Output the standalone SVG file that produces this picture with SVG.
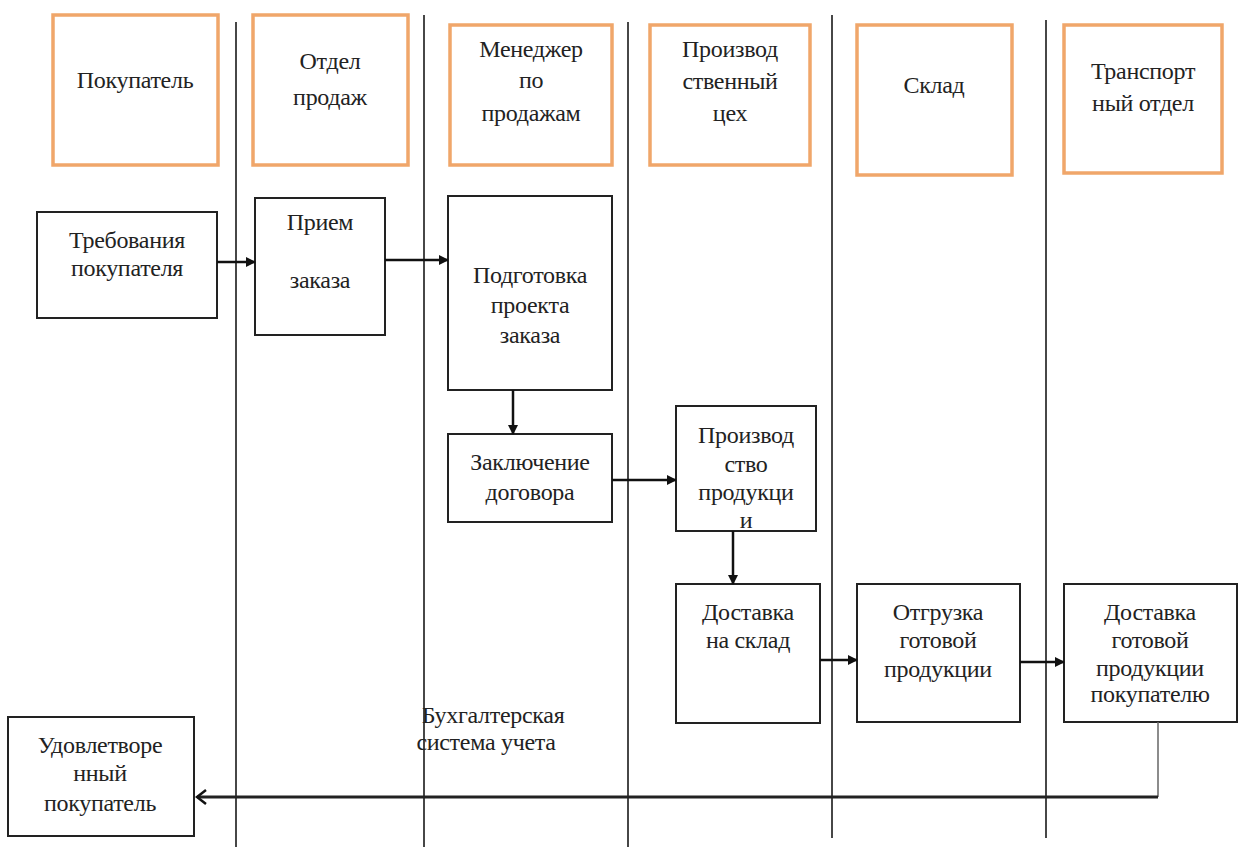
<svg xmlns="http://www.w3.org/2000/svg" width="1240" height="847" viewBox="0 0 1240 847">
<style>
text{font-family:'Liberation Serif','Times New Roman',serif;font-size:24px;fill:#222;text-anchor:middle;letter-spacing:-0.3px}
.hdr{fill:#fff;stroke:#F0A66A;stroke-width:3.5}
.box{fill:#fff;stroke:#222;stroke-width:2}
.lane{stroke:#333;stroke-width:1.8}
.arr{stroke:#111;stroke-width:2.5;fill:none;marker-end:url(#ah)}
</style>
<defs>
<marker id="ah" markerWidth="10" markerHeight="10" refX="9" refY="5" orient="auto" markerUnits="userSpaceOnUse">
<path d="M0,0 L10,5 L0,10 Z" fill="#111"/>
</marker>
<marker id="open" markerWidth="12" markerHeight="16" refX="10" refY="8" orient="auto" markerUnits="userSpaceOnUse">
<path d="M1,1 L10,8 L1,15" fill="none" stroke="#111" stroke-width="2.5"/>
</marker>
</defs>
<rect width="1240" height="847" fill="#fff"/>
<g id="lanes">
<line class="lane" x1="236" y1="22" x2="236" y2="847"/>
<line class="lane" x1="424" y1="15" x2="424" y2="847"/>
<line class="lane" x1="628" y1="22" x2="628" y2="847"/>
<line class="lane" x1="832" y1="15" x2="832" y2="838"/>
<line class="lane" x1="1046" y1="20" x2="1046" y2="838"/>
</g>
<g id="h1"><rect class="hdr" x="53" y="15" width="165" height="150"/><text x="135" y="88">Покупатель</text></g>
<g id="h2"><rect class="hdr" x="253" y="15" width="155" height="150"/><text x="330" y="69">Отдел</text><text x="330" y="105">продаж</text></g>
<g id="h3"><rect class="hdr" x="450" y="25" width="162" height="140"/><text x="531" y="57">Менеджер</text><text x="531" y="88">по</text><text x="531" y="121">продажам</text></g>
<g id="h4"><rect class="hdr" x="650" y="25" width="160" height="140"/><text x="730" y="57">Производ</text><text x="730" y="89">ственный</text><text x="730" y="121">цех</text></g>
<g id="h5"><rect class="hdr" x="857" y="25" width="155" height="150"/><text x="934" y="93">Склад</text></g>
<g id="h6"><rect class="hdr" x="1064" y="25" width="158" height="148"/><text x="1143" y="79">Транспорт</text><text x="1143" y="111">ный отдел</text></g>

<g id="n1"><rect class="box" x="37" y="212" width="180" height="106"/><text x="127" y="248">Требования</text><text x="127" y="276">покупателя</text></g>
<g id="n2"><rect class="box" x="255" y="198" width="130" height="137"/><text x="320" y="230">Прием</text><text x="320" y="288">заказа</text></g>
<g id="n3"><rect class="box" x="448" y="196" width="164" height="194"/><text x="530" y="283">Подготовка</text><text x="530" y="313">проекта</text><text x="530" y="343">заказа</text></g>
<g id="n4"><rect class="box" x="448" y="434" width="164" height="88"/><text x="530" y="470">Заключение</text><text x="530" y="500">договора</text></g>
<g id="n5"><rect class="box" x="676" y="406" width="140" height="125"/><text x="746" y="443">Производ</text><text x="746" y="472">ство</text><text x="746" y="500">продукци</text><text x="746" y="528">и</text></g>
<g id="n6"><rect class="box" x="676" y="584" width="144" height="139"/><text x="748" y="620">Доставка</text><text x="748" y="648">на склад</text></g>
<g id="n7"><rect class="box" x="857" y="584" width="163" height="138"/><text x="938" y="620">Отгрузка</text><text x="938" y="648">готовой</text><text x="938" y="677">продукции</text></g>
<g id="n8"><rect class="box" x="1064" y="584" width="173" height="138"/><text x="1150" y="620">Доставка</text><text x="1150" y="648">готовой</text><text x="1150" y="676">продукции</text><text x="1150" y="702">покупателю</text></g>
<g id="n9"><rect class="box" x="8" y="717" width="186" height="119"/><text x="100" y="753">Удовлетворе</text><text x="100" y="781">нный</text><text x="100" y="811">покупатель</text></g>
<g id="note"><text x="493" y="723">Бухгалтерская</text><text x="486" y="750">система учета</text></g>
<g id="connectors">
<line class="arr" x1="217" y1="262" x2="255" y2="262"/>
<line class="arr" x1="385" y1="260" x2="448" y2="260"/>
<line class="arr" x1="513" y1="390" x2="513" y2="434"/>
<line class="arr" x1="612" y1="480" x2="676" y2="480"/>
<line class="arr" x1="733" y1="531" x2="733" y2="584"/>
<line class="arr" x1="820" y1="660" x2="857" y2="660"/>
<line class="arr" x1="1020" y1="662" x2="1064" y2="662"/>
<line x1="1158" y1="722" x2="1158" y2="797" stroke="#666" stroke-width="1.5"/>
<line x1="1158" y1="797" x2="197" y2="797" stroke="#222" stroke-width="3" marker-end="url(#open)"/>
</g>
</svg>
